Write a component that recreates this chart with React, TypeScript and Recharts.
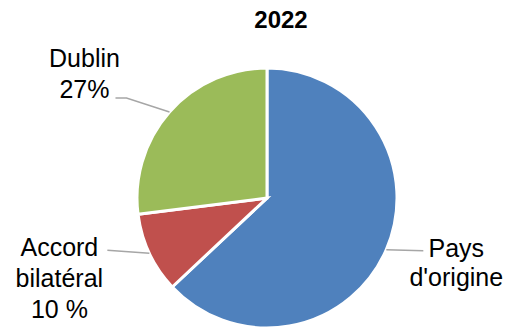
import React from 'react';
import { PieChart, Pie, Cell } from 'recharts';

const categories = ["Pays d'origine", 'Accord bilatéral', 'Dublin'];
const values = [63, 10, 27];
const labelTexts = [["Pays", "d'origine"], ['Accord', 'bilatéral', '10 %'], ['Dublin', '27%']];
const title = '2022';

const COLORS = ['#4F81BD', '#C0504D', '#9BBB59'];
const FONT = '"Liberation Sans", Arial, sans-serif';

// leader line path + text anchor, offsets from the slice edge point
const LABEL_LAYOUT = [
  { line: [[37, 1]], tx: 70, ty: 7, lh: 29 },
  { line: [[-42, -3]], tx: -90, ty: 3, lh: 31 },
  { line: [[-43, -14], [-54, -14]], tx: -85, ty: -45, lh: 31 }
];

const data = categories.map((name, i) => ({ name, value: values[i] }));

const RADIAN = Math.PI / 180;

const renderLabel = (props: any) => {
  const { cx, cy, midAngle, outerRadius, index } = props;
  const ex = cx + outerRadius * Math.cos(-midAngle * RADIAN);
  const ey = cy + outerRadius * Math.sin(-midAngle * RADIAN);
  const layout = LABEL_LAYOUT[index];
  const pts = [[ex, ey], ...layout.line.map(([dx, dy]) => [ex + dx, ey + dy])];
  return (
    <g key={`lbl-${index}`}>
      <polyline
        points={pts.map((p) => p.join(',')).join(' ')}
        fill="none"
        stroke="#A6A6A6"
        strokeWidth={1.5}
      />
      <text textAnchor="middle" fontFamily={FONT} fontSize={25} fill="#000">
        {labelTexts[index].map((t, j) => (
          <tspan key={j} x={ex + layout.tx} y={ey + layout.ty + j * layout.lh}>
            {t}
          </tspan>
        ))}
      </text>
    </g>
  );
};

export default function App() {
  return (
    <div style={{ position: 'absolute', left: 0, top: 0, width: 513, height: 327, background: '#fff' }}>
      <PieChart width={513} height={327} margin={{ top: 0, right: 0, bottom: 0, left: 0 }}>
        <text x={281} y={28} textAnchor="middle" fontFamily={FONT} fontSize={24} fontWeight="bold" fill="#000">
          {title}
        </text>
        <Pie
          data={data}
          dataKey="value"
          cx={267}
          cy={198}
          outerRadius={130}
          startAngle={90}
          endAngle={-270}
          stroke="#fff"
          strokeWidth={3}
          label={renderLabel}
          labelLine={false}
          isAnimationActive={false}
        >
          {data.map((entry, index) => (
            <Cell key={entry.name} fill={COLORS[index % COLORS.length]} />
          ))}
        </Pie>
      </PieChart>
    </div>
  );
}
